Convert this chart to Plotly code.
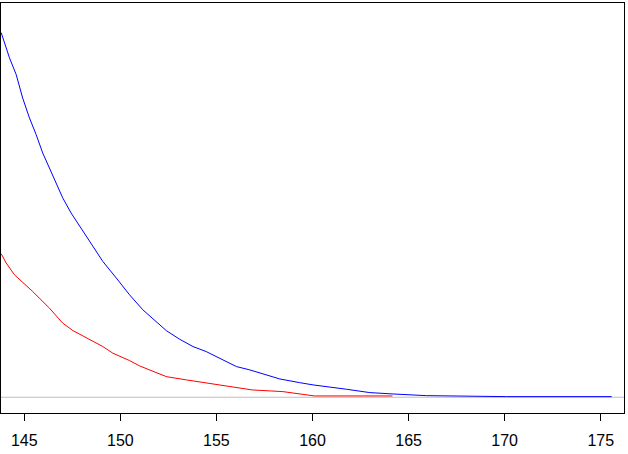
import plotly.graph_objects as go

# curve values (x in the axis units, y in tick units)
blue_x = [143.8, 144.23, 144.58, 144.92, 145.27, 145.62, 145.96, 146.31, 146.66, 147.0,
          147.44, 147.88, 148.4, 149.09, 149.79, 150.48, 151.17, 151.87, 152.39, 153.08,
          153.78, 154.47, 155.17, 156.04, 156.73, 157.5, 158.3, 159.33, 160.03, 161.77,
          162.98, 164.19, 165.93, 170.1, 175.57]
blue_y = [4.79, 4.46, 4.24, 3.93, 3.67, 3.45, 3.21, 3.01, 2.82, 2.62,
          2.42, 2.25, 2.034, 1.784, 1.566, 1.346, 1.149, 0.995, 0.876, 0.763,
          0.666, 0.6, 0.513, 0.403, 0.36, 0.3, 0.24, 0.192, 0.162, 0.105,
          0.061, 0.043, 0.021, 0.008, 0.008]

red_x = [143.8, 144.06, 144.49, 145.44, 146.31, 147.0, 147.53, 148.4, 149.09, 149.61,
         150.48, 151.0, 151.43, 152.39, 153.43, 154.64, 155.86, 156.87, 158.46, 159.5,
         160.1, 164.16]
red_y = [1.886, 1.763, 1.609, 1.389, 1.171, 0.974, 0.876, 0.763, 0.666, 0.579,
         0.482, 0.412, 0.368, 0.271, 0.228, 0.184, 0.14, 0.096, 0.074, 0.034,
         0.017, 0.017]

x_ticks = [145, 150, 155, 160, 165, 170, 175]
y_ticks = [0, 1, 2, 3, 4, 5]

fig = go.Figure()
fig.add_trace(go.Scatter(x=blue_x, y=blue_y, mode='lines', line=dict(color='blue', width=1)))
fig.add_trace(go.Scatter(x=red_x, y=red_y, mode='lines', line=dict(color='red', width=1)))

# gray reference line at zero
fig.add_shape(type='line', xref='paper', x0=0, x1=1, yref='y', y0=0, y1=0,
              line=dict(color='#BEBEBE', width=1), layer='below')

fig.update_layout(
    width=628, height=454,
    margin=dict(l=1, r=4, t=3, b=41),
    paper_bgcolor='white', plot_bgcolor='white',
    showlegend=False,
    font=dict(family='Liberation Sans', size=16, color='black'),
)
fig.update_xaxes(range=[143.79, 176.21], tickvals=x_ticks, ticks='outside', ticklen=7,
                 tickcolor='black', showgrid=False, zeroline=False, automargin=False,
                 showline=True, linecolor='black', linewidth=1, mirror=True,
                 ticklabelstandoff=6)
fig.update_yaxes(range=[-0.207, 5.18], tickvals=y_ticks, ticks='outside', ticklen=7,
                 tickcolor='black', showgrid=False, zeroline=False, showticklabels=False,
                 automargin=False,
                 showline=True, linecolor='black', linewidth=1, mirror=True)

# page has a default 8px body margin, drop it so the figure fills the window
fig.write_html("out.html", config={'displayModeBar': False},
               post_script="document.body.style.margin='0';")
